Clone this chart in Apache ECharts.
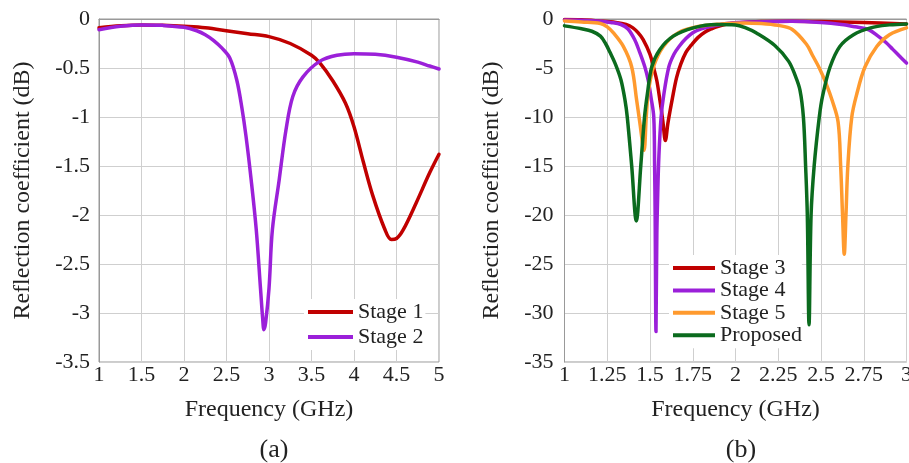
<!DOCTYPE html>
<html>
<head>
<meta charset="utf-8">
<script src="https://cdn.jsdelivr.net/npm/echarts@6/dist/echarts.min.js"></script>
<style>
  html, body { margin: 0; padding: 0; background: #fff; }
  #chart { width: 909px; height: 463px; }
</style>
</head>
<body>
<div id="chart"></div>
<script>
// (a) frequency in GHz, reflection coefficient in dB
const stage1 = [[1.0,-0.09],[1.25,-0.07],[1.5,-0.06],[1.75,-0.065],[2.0,-0.075],[2.25,-0.09],[2.54,-0.125],
  [2.75,-0.15],[3.0,-0.18],[3.25,-0.25],[3.5,-0.37],[3.6,-0.45],[3.75,-0.63],[3.9,-0.86],[4.0,-1.1],
  [4.11,-1.46],[4.22,-1.8],[4.36,-2.14],[4.44,-2.25],[4.5,-2.24],[4.58,-2.15],[4.73,-1.88],[4.89,-1.57],[5.0,-1.38]];
const stage2 = [[1.0,-0.11],[1.25,-0.075],[1.5,-0.06],[1.75,-0.065],[2.0,-0.085],[2.15,-0.12],[2.25,-0.16],
  [2.35,-0.22],[2.45,-0.3],[2.54,-0.4],[2.62,-0.62],[2.68,-0.9],[2.73,-1.2],[2.79,-1.64],[2.85,-2.15],
  [2.9,-2.75],[2.925,-3.05],[2.94,-3.17],[2.96,-3.1],[3.0,-2.75],[3.04,-2.15],[3.12,-1.64],[3.2,-1.13],
  [3.28,-0.79],[3.4,-0.59],[3.6,-0.43],[3.8,-0.37],[4.0,-0.354],[4.25,-0.36],[4.5,-0.39],[4.75,-0.44],
  [4.89,-0.48],[5.0,-0.51]];

// (b)
const stage3 = [[1.0,-0.05],[1.1,-0.08],[1.2,-0.2],[1.3,-0.35],[1.36,-0.55],[1.4,-0.9],[1.43,-1.4],[1.46,-2.1],
  [1.5,-3.6],[1.52,-4.9],[1.54,-6.3],[1.558,-8.3],[1.575,-10.4],[1.59,-12.4],[1.605,-10.6],[1.632,-8.0],
  [1.655,-6.0],[1.68,-4.6],[1.71,-3.4],[1.74,-2.7],[1.78,-1.9],[1.82,-1.35],[1.86,-1.0],[1.9,-0.74],
  [1.95,-0.52],[2.0,-0.4],[2.15,-0.25],[2.33,-0.22],[2.5,-0.25],[2.75,-0.35],[3.0,-0.5]];
const stage4 = [[1.0,-0.1],[1.1,-0.12],[1.21,-0.22],[1.27,-0.35],[1.33,-0.56],[1.37,-1.0],[1.41,-2.1],
  [1.44,-3.4],[1.47,-4.9],[1.49,-6.3],[1.506,-8.0],[1.522,-10],[1.527,-15],[1.53,-20],[1.535,-31.9],
  [1.54,-22],[1.545,-18],[1.552,-14],[1.565,-10],[1.58,-7.8],[1.61,-4.9],[1.64,-3.6],[1.67,-2.8],
  [1.71,-2.0],[1.75,-1.4],[1.8,-1.0],[1.86,-0.74],[1.95,-0.45],[2.1,-0.3],[2.33,-0.22],[2.5,-0.35],
  [2.62,-0.56],[2.7,-0.8],[2.78,-1.1],[2.83,-1.7],[2.88,-2.4],[2.92,-3.1],[2.96,-3.8],[3.0,-4.5]];
const stage5 = [[1.0,-0.2],[1.1,-0.3],[1.21,-0.45],[1.25,-0.8],[1.285,-1.4],[1.344,-2.8],[1.393,-4.9],[1.422,-8.3],
  [1.44,-10.5],[1.465,-13.4],[1.478,-10],[1.49,-7.5],[1.52,-4.9],[1.578,-2.8],[1.666,-1.4],[1.79,-0.74],
  [1.92,-0.5],[2.05,-0.4],[2.15,-0.45],[2.25,-0.65],[2.33,-1.05],[2.416,-2.6],[2.45,-3.7],[2.49,-5.0],
  [2.53,-6.6],[2.565,-8.3],[2.6,-10.5],[2.615,-15],[2.626,-20],[2.636,-24.0],[2.646,-20],[2.657,-15],
  [2.68,-10],[2.71,-7.6],[2.757,-4.9],[2.826,-2.8],[2.9,-1.6],[3.0,-0.9]];
const proposed = [[1.0,-0.7],[1.1,-1.0],[1.16,-1.25],[1.21,-1.75],[1.24,-2.5],[1.266,-3.4],[1.3,-4.7],
  [1.33,-6.2],[1.354,-8.3],[1.367,-10],[1.393,-15],[1.42,-20.6],[1.446,-15],[1.468,-10],[1.485,-7.6],
  [1.51,-4.9],[1.558,-3.1],[1.636,-1.75],[1.753,-0.9],[1.89,-0.56],[2.0,-0.6],[2.06,-0.9],[2.12,-1.4],
  [2.23,-2.7],[2.31,-4.3],[2.35,-5.8],[2.377,-7.25],[2.397,-10],[2.41,-15],[2.42,-20],[2.43,-31.2],
  [2.442,-20],[2.46,-15],[2.49,-10],[2.51,-7.8],[2.553,-4.9],[2.61,-2.8],[2.69,-1.6],[2.79,-0.9],
  [2.9,-0.6],[3.0,-0.5]];

const leftNames = ['Stage 1', 'Stage 2'];
const rightNames = ['Stage 3', 'Stage 4', 'Stage 5', 'Proposed'];
const panelLabels = ['(a)', '(b)'];

const serif = '"Liberation Serif", "DejaVu Serif", serif';
const textCol = '#222';

function xAx(idx, min, max, interval) {
  return {
    type: 'value', gridIndex: idx, min: min, max: max, interval: interval,
    name: 'Frequency (GHz)', nameLocation: 'middle', nameGap: 36,
    nameTextStyle: { fontFamily: serif, fontSize: 24, color: textCol },
    axisLine: { show: true, lineStyle: { color: '#999' } },
    axisTick: { show: false },
    axisLabel: { fontFamily: serif, fontSize: 22, color: textCol, margin: 2, showMaxLabel: true, showMinLabel: true },
    splitLine: { show: true, lineStyle: { color: '#cfcfcf' } }
  };
}
function yAx(idx, min, max, interval, gap, margin) {
  return {
    type: 'value', gridIndex: idx, min: min, max: max, interval: interval,
    name: 'Reflection coefficient (dB)', nameLocation: 'middle', nameGap: gap,
    nameTextStyle: { fontFamily: serif, fontSize: 24, color: textCol },
    axisLine: { show: true, lineStyle: { color: '#999' } },
    axisTick: { show: false },
    axisLabel: { fontFamily: serif, fontSize: 22, color: textCol, margin: margin },
    splitLine: { show: true, lineStyle: { color: '#cfcfcf' } }
  };
}
function line(name, data, idx, color) {
  return {
    name: name, type: 'line', xAxisIndex: idx, yAxisIndex: idx, data: data, z: 3,
    showSymbol: false, smooth: 0.35,
    lineStyle: { color: color, width: 3.5, join: 'round', cap: 'round' }, itemStyle: { color: color }
  };
}

var chart = echarts.init(document.getElementById('chart'), null, { renderer: 'canvas' });

chart.setOption({
  animation: false,
  backgroundColor: '#fff',
  title: [
    { text: panelLabels[0], left: 269, top: 432, textAlign: 'center',
      textStyle: { fontFamily: serif, fontSize: 26, fontWeight: 'normal', color: textCol } },
    { text: panelLabels[1], left: 736, top: 432, textAlign: 'center',
      textStyle: { fontFamily: serif, fontSize: 26, fontWeight: 'normal', color: textCol } }
  ],
  grid: [
    { left: 99, right: 470, top: 19, bottom: 101, show: true, borderColor: '#999', borderWidth: 1,
      outerBoundsMode: 'none' },
    { left: 564.5, right: 2.5, top: 19, bottom: 101, show: true, borderColor: '#999', borderWidth: 1,
      outerBoundsMode: 'none' }
  ],
  xAxis: [xAx(0, 1, 5, 0.5), xAx(1, 1, 3, 0.25)],
  yAxis: [yAx(0, -3.5, 0, 0.5, 64, 9), yAx(1, -35, 0, 5, 61, 11)],
  legend: [
    { data: leftNames, orient: 'vertical', left: 304, top: 299, icon: 'rect', itemWidth: 45, itemHeight: 4,
      itemGap: 3, padding: [2, 2, 2, 4], backgroundColor: '#fff', z: 2,
      textStyle: { fontFamily: serif, fontSize: 22, color: textCol, lineHeight: 22 } },
    { data: rightNames, orient: 'vertical', left: 669, top: 255, icon: 'rect', itemWidth: 42, itemHeight: 4,
      itemGap: 0.4, padding: [2, 0, 2, 4], backgroundColor: '#fff', z: 2,
      textStyle: { fontFamily: serif, fontSize: 22, color: textCol, lineHeight: 22 } }
  ],
  series: [
    line(leftNames[0], stage1, 0, '#c00000'),
    line(leftNames[1], stage2, 0, '#9b20d9'),
    line(rightNames[0], stage3, 1, '#c00000'),
    line(rightNames[1], stage4, 1, '#9b20d9'),
    line(rightNames[2], stage5, 1, '#ff9a2e'),
    line(rightNames[3], proposed, 1, '#0b6b1e')
  ]
});
</script>
</body>
</html>
